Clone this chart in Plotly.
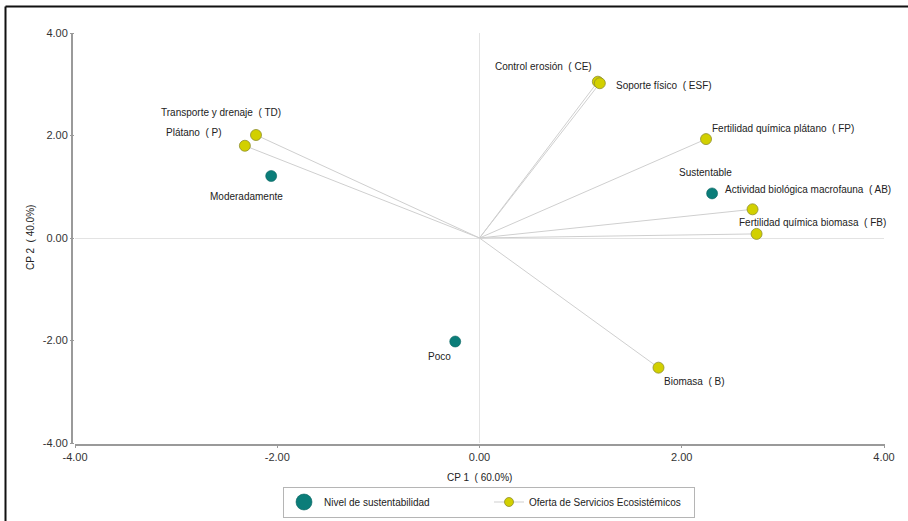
import plotly.graph_objects as go

# Principal-component biplot: sustainability levels and ecosystem-service vectors
level_names = ["Moderadamente", "Sustentable", "Poco"]
level_cp1 = [-2.06, 2.30, -0.24]
level_cp2 = [1.21, 0.87, -2.02]

service_names = [
    "Transporte y drenaje  ( TD)",
    "Plátano  ( P)",
    "Control erosión  ( CE)",
    "Soporte físico  ( ESF)",
    "Fertilidad química plátano  ( FP)",
    "Actividad biológica macrofauna  ( AB)",
    "Fertilidad química biomasa  ( FB)",
    "Biomasa  ( B)",
]
service_cp1 = [-2.21, -2.32, 1.17, 1.19, 2.24, 2.70, 2.74, 1.77]
service_cp2 = [2.01, 1.80, 3.05, 3.02, 1.93, 0.56, 0.08, -2.53]

x_ticks = [-4, -2, 0, 2, 4]
y_ticks = [-4, -2, 0, 2, 4]
tick_text = ["-4.00", "-2.00", "0.00", "2.00", "4.00"]

# label placement per point: (xanchor, xshift, yshift)
level_label_pos = [("center", -25, -21), ("center", -7, 21), ("center", -16, -15)]
service_label_pos = [
    ("center", -35, 22),
    ("right", -21, 13),
    ("right", -4, 15),
    ("left", 14, -2),
    ("left", 4, 11),
    ("left", -30, 20),
    ("left", -20, 11),
    ("left", 4, -14),
]

TEAL = "#0b7d79"
YELLOW = "#d2d000"
FONT = "Liberation Sans, Arial, sans-serif"

fig = go.Figure()

# vectors from the origin to every service
vx, vy = [], []
for x, y in zip(service_cp1, service_cp2):
    vx += [0, x, None]
    vy += [0, y, None]
fig.add_trace(go.Scatter(x=vx, y=vy, mode="lines", line=dict(color="#cfcfcf", width=1),
                         showlegend=False, hoverinfo="skip"))

fig.add_trace(go.Scatter(x=service_cp1, y=service_cp2, mode="markers",
                         marker=dict(color=YELLOW, size=11, line=dict(color="#8f8f30", width=0.8)),
                         showlegend=False))
fig.add_trace(go.Scatter(x=level_cp1, y=level_cp2, mode="markers",
                         marker=dict(color=TEAL, size=11, line=dict(color="#0a6562", width=0.6)),
                         showlegend=False))

# legend entries
fig.add_trace(go.Scatter(x=[None], y=[None], mode="markers", name="Nivel de sustentabilidad",
                         marker=dict(color=TEAL, size=16, line=dict(color="#0a6562", width=0.6))))
fig.add_trace(go.Scatter(x=[None], y=[None], mode="lines+markers",
                         name="Oferta de Servicios Ecosistémicos",
                         line=dict(color="#cfcfcf", width=1),
                         marker=dict(color=YELLOW, size=9, line=dict(color="#8f8f30", width=0.8))))

annotations = []
for name, x, y, (xa, xs, ys) in zip(level_names, level_cp1, level_cp2, level_label_pos):
    annotations.append(dict(x=x, y=y, xref="x", yref="y", text=name, showarrow=False,
                            xanchor=xa, yanchor="middle", xshift=xs, yshift=ys,
                            font=dict(family=FONT, size=10, color="#222222")))
for name, x, y, (xa, xs, ys) in zip(service_names, service_cp1, service_cp2, service_label_pos):
    annotations.append(dict(x=x, y=y, xref="x", yref="y", text=name, showarrow=False,
                            xanchor=xa, yanchor="middle", xshift=xs, yshift=ys,
                            font=dict(family=FONT, size=10, color="#222222")))

L, R, T, B = 75, 24, 33, 78
W, H = 908, 521
pw, ph = W - L - R, H - T - B

# axis titles
annotations.append(dict(x=0.5, y=-(477 - (H - B)) / ph, xref="paper", yref="paper",
                        text="CP 1  ( 60.0%)", showarrow=False, xanchor="center",
                        yanchor="middle", font=dict(family=FONT, size=10, color="#222222")))
annotations.append(dict(x=(30 - L) / pw, y=0.5, xref="paper", yref="paper",
                        text="CP 2  ( 40.0%)", showarrow=False, textangle=-90,
                        xanchor="center", yanchor="middle",
                        font=dict(family=FONT, size=10, color="#222222")))

shapes = [
    # axis lines, set slightly apart from the data region
    dict(type="line", xref="paper", yref="y", x0=-3 / pw, x1=-3 / pw, y0=-4, y1=4,
         line=dict(color="#9a9a9a", width=2)),
    dict(type="line", xref="x", yref="paper", x0=-4, x1=4, y0=-2 / ph, y1=-2 / ph,
         line=dict(color="#9a9a9a", width=2)),
    # outer frame (top and left edges)
    dict(type="line", xref="paper", yref="paper", x0=(5.5 - L) / pw, x1=(W - L) / pw,
         y0=(H - B - 6.5) / ph, y1=(H - B - 6.5) / ph, line=dict(color="#111111", width=2)),
    dict(type="line", xref="paper", yref="paper", x0=(5.5 - L) / pw, x1=(5.5 - L) / pw,
         y0=(H - B - 6.5) / ph, y1=-B / ph, line=dict(color="#111111", width=2)),
]

axis_common = dict(showgrid=False, showline=False, zeroline=True, zerolinecolor="#e3e3e3",
                   zerolinewidth=1, ticks="outside", ticklen=4, tickcolor="#9a9a9a",
                   tickfont=dict(family=FONT, size=11, color="#333333"))

fig.update_layout(
    width=W, height=H,
    margin=dict(l=L, r=R, t=T, b=B, autoexpand=False),
    paper_bgcolor="white", plot_bgcolor="white",
    xaxis=dict(range=[-4, 4], tickvals=x_ticks, ticktext=tick_text, **axis_common),
    yaxis=dict(range=[-4, 4], tickvals=y_ticks, ticktext=tick_text, **axis_common),
    annotations=annotations,
    shapes=shapes,
    legend=dict(orientation="h", x=(489 - L) / pw, y=-(502 - (H - B)) / ph,
                xanchor="center", yanchor="middle",
                bordercolor="#b5b5b5", borderwidth=1, bgcolor="white",
                font=dict(family=FONT, size=10, color="#222222"),
                itemsizing="trace", itemwidth=30,
                entrywidth=160, entrywidthmode="pixels"),
    showlegend=True,
)

fig.write_html("out.html")
